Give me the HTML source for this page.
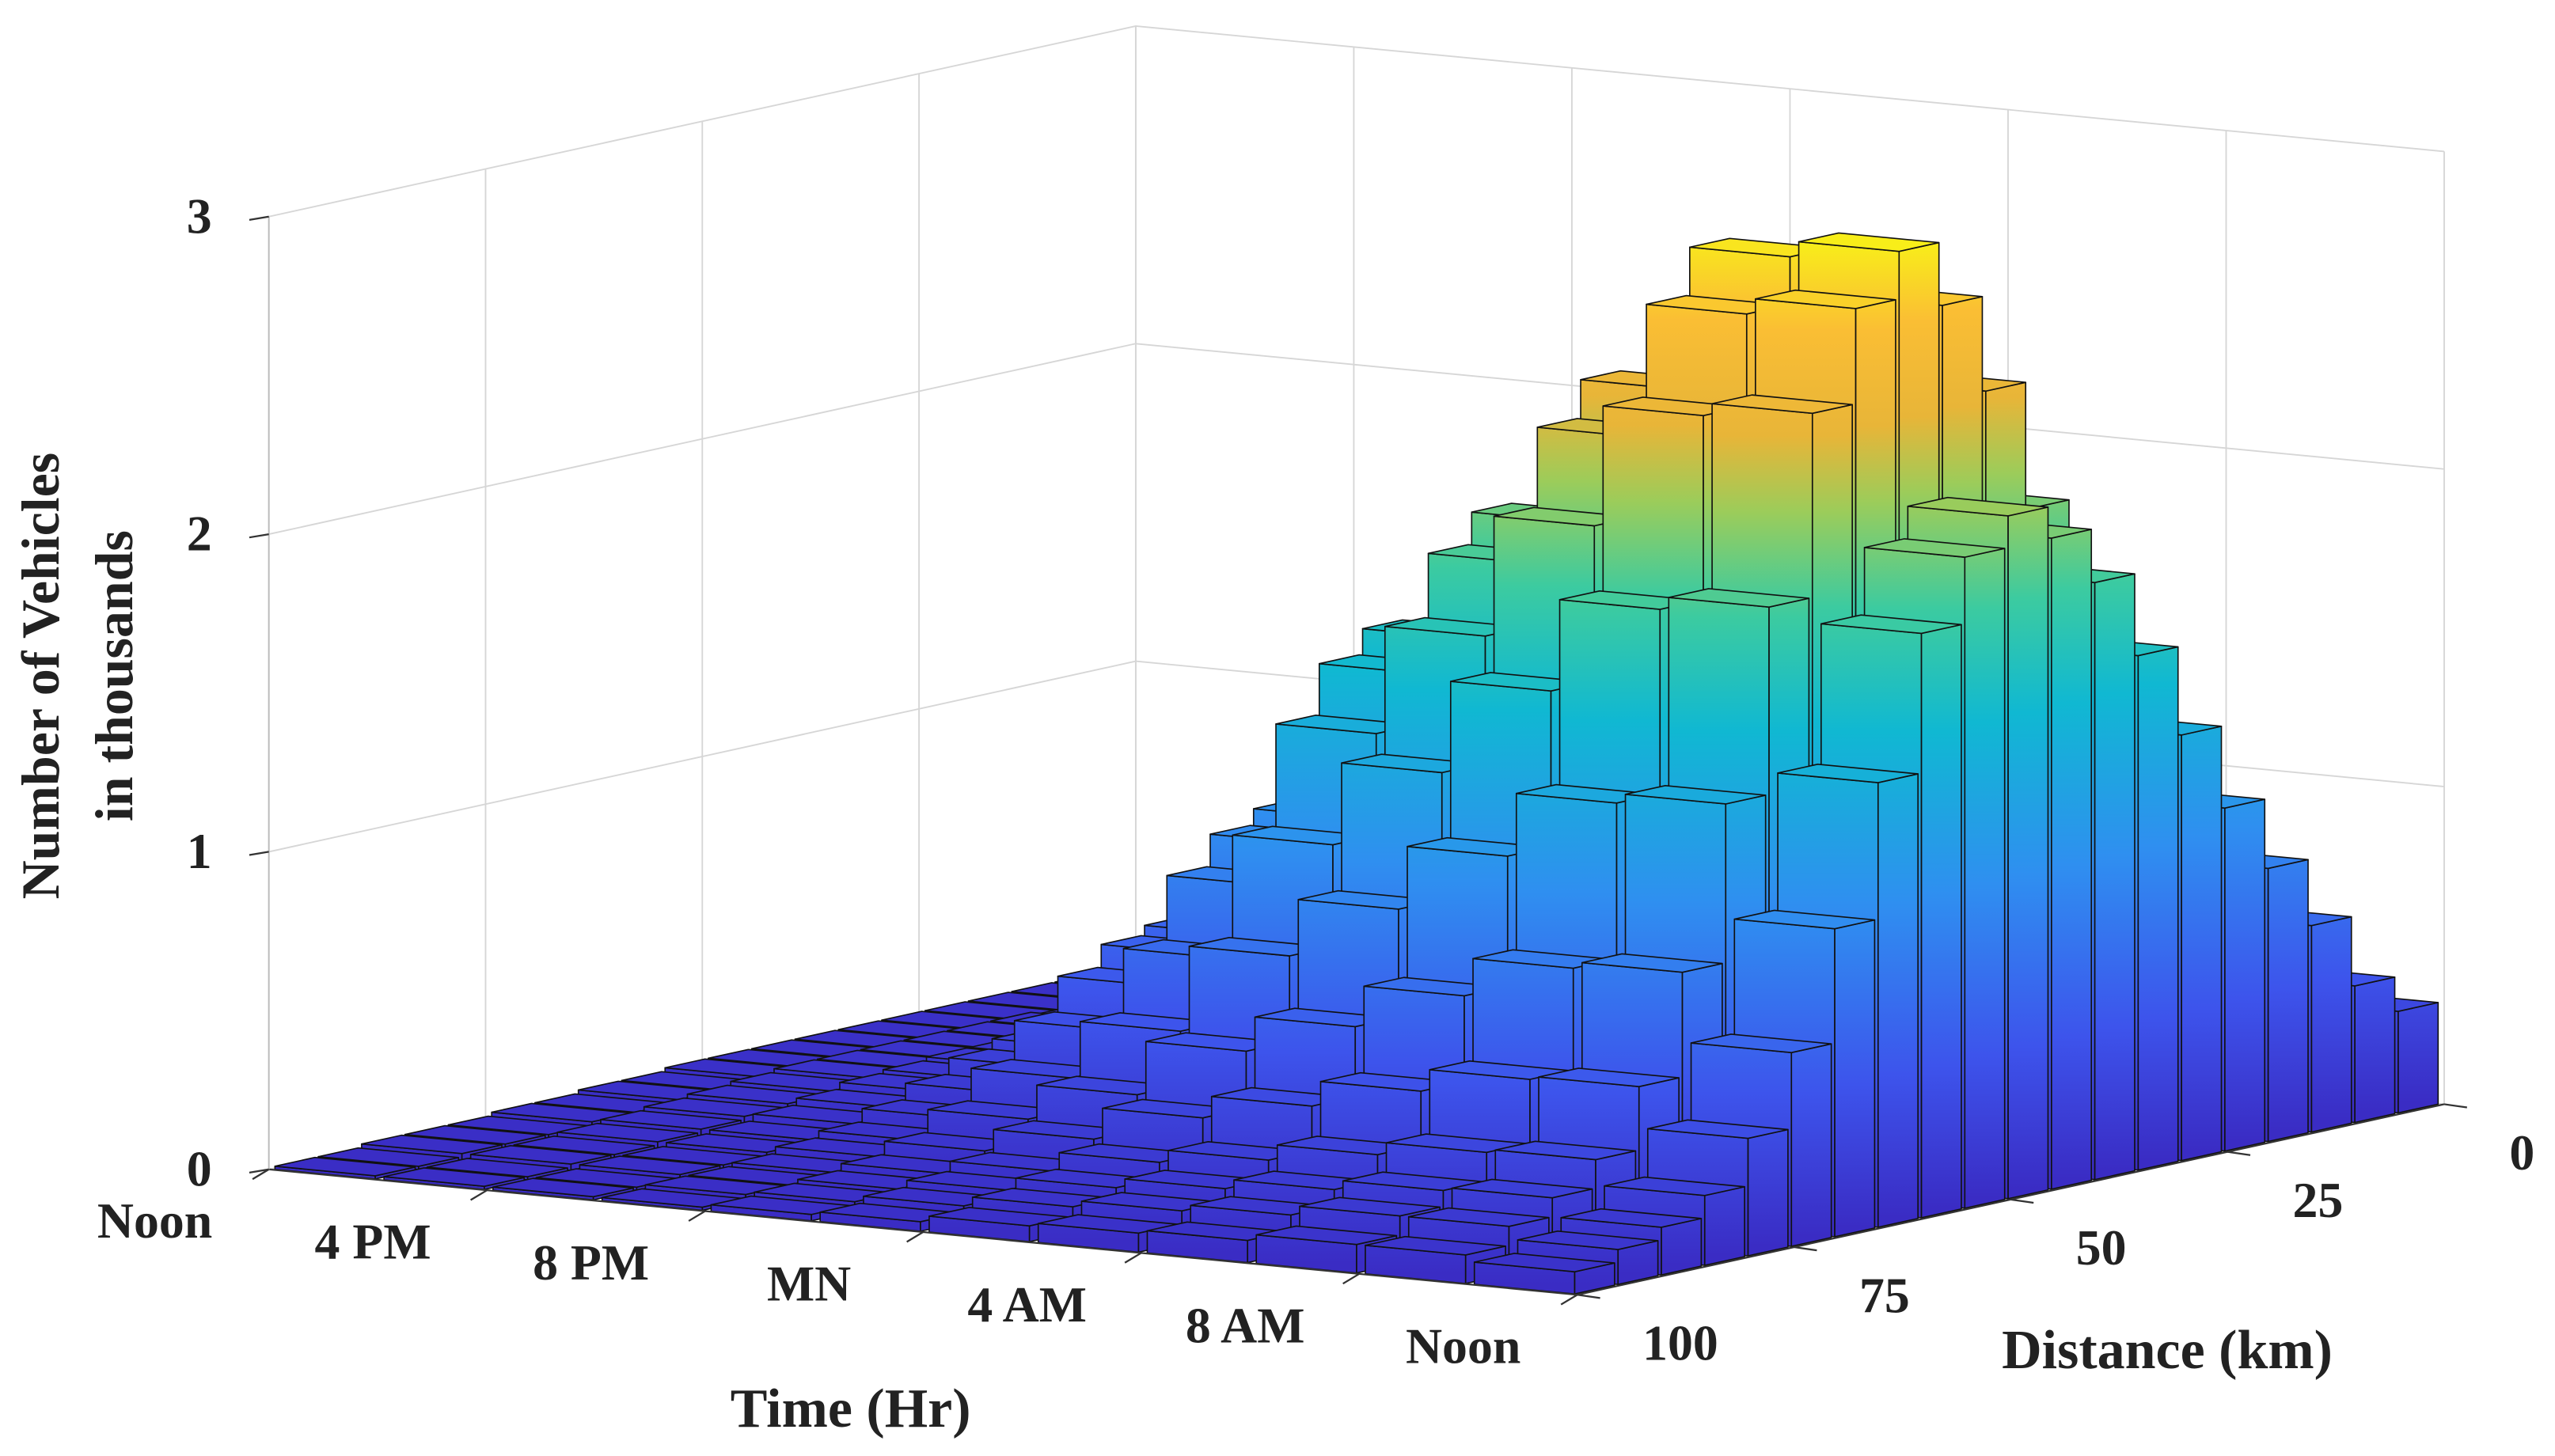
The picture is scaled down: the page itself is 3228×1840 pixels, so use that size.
<!DOCTYPE html>
<html><head><meta charset="utf-8"><style>
html,body{margin:0;padding:0;background:#fff;}
svg{display:block;}
text{font-family:"Liberation Serif",serif;font-weight:bold;fill:#222;}
</style></head><body>
<svg id="chart" width="3228" height="1840" viewBox="0 0 1568 894" preserveAspectRatio="none" xmlns="http://www.w3.org/2000/svg">
<defs id="defs"></defs>
<g id="walls"></g>
<g id="bars"></g>
<g id="axes"></g>
<text transform="translate(36,415) rotate(-90)" text-anchor="middle" font-size="33">Number of Vehicles</text>
<text transform="translate(81,415) rotate(-90)" text-anchor="middle" font-size="33">in thousands</text>
<text x="522" y="876" text-anchor="middle" font-size="34">Time  (Hr)</text>
<text x="1330" y="840" text-anchor="middle" font-size="34">Distance (km)</text>
</svg>
<script>
// time bins: 2-hour bins starting at Noon; distance bins: 5 km from 0 km
const timeBins = [0,1,2,3,4,5,6,7,8,9,10,11];
const distBins = [0,5,10,15,20,25,30,35,40,45,50,55,60,65,70,75,80,85,90,95];
const zTicks = [0,1,2,3];
const timeTickHours = [0,4,8,12,16,20,24];
const timeTickLabels = ["Noon","4 PM","8 PM","MN","4 AM","8 AM","Noon"];
const distTicks = [100,75,50,25,0];
// values (thousands) per time bin, indexed by distance bin (0-5 km ... 95-100 km)
const v0 = [0.05,0.05,0.05,0.05,0.05,0.05,0.05,0.05,0.05,0.05,0.05,0.04,0.04,0.03,0.03,0.02,0.02,0.02,0.01,0.01];
const v1 = [0.06,0.06,0.07,0.07,0.07,0.08,0.08,0.08,0.08,0.08,0.08,0.07,0.06,0.05,0.04,0.03,0.02,0.02,0.01,0.01];
const v2 = [0.06,0.07,0.08,0.09,0.10,0.11,0.11,0.12,0.12,0.12,0.11,0.10,0.08,0.06,0.04,0.03,0.02,0.02,0.01,0.01];
const v3 = [0.07,0.08,0.10,0.12,0.15,0.18,0.20,0.22,0.24,0.25,0.24,0.21,0.16,0.11,0.07,0.05,0.03,0.02,0.02,0.01];
const v4 = [0.10,0.13,0.18,0.24,0.30,0.37,0.45,0.52,0.57,0.60,0.57,0.50,0.39,0.27,0.17,0.10,0.06,0.04,0.03,0.02];
const v5 = [0.15,0.20,0.30,0.40,0.50,0.62,0.75,0.87,0.95,1.00,0.95,0.85,0.65,0.45,0.28,0.17,0.10,0.07,0.05,0.03];
const v6 = [0.24,0.32,0.48,0.64,0.80,1.00,1.20,1.40,1.52,1.60,1.52,1.36,1.04,0.72,0.45,0.27,0.16,0.11,0.08,0.05];
const v7 = [0.30,0.40,0.60,0.80,1.00,1.24,1.50,1.74,1.90,2.00,1.90,1.70,1.30,0.90,0.56,0.34,0.20,0.14,0.10,0.06];
const v8 = [0.37,0.49,0.74,0.98,1.22,1.52,1.84,2.13,2.33,2.45,2.33,2.08,1.59,1.10,0.69,0.42,0.25,0.17,0.12,0.07];
const v9 = [0.43,0.58,0.87,1.16,1.45,1.80,2.17,2.52,2.75,2.90,2.75,2.46,1.88,1.30,0.81,0.49,0.29,0.20,0.15,0.09];
const v10 = [0.40,0.52,0.78,1.05,1.32,1.65,2.05,2.45,2.75,2.95,2.80,2.50,1.92,1.33,0.83,0.50,0.30,0.21,0.15,0.09];
const v11 = [0.32,0.43,0.65,0.86,1.08,1.34,1.62,1.88,2.05,2.15,2.05,1.84,1.40,0.97,0.61,0.37,0.22,0.15,0.11,0.07];
const values = [v0,v1,v2,v3,v4,v5,v6,v7,v8,v9,v10,v11];

const NS = "http://www.w3.org/2000/svg";
const O = {x:165,y:718}, TV = {x:803,y:77}, DV = {x:532,y:-117}, ZS = 195, ZMAX = 3;
function P(t,d,z){ const a=t/24, b=(100-d)/100;
  return [O.x + a*TV.x + b*DV.x, O.y + a*TV.y + b*DV.y - z*ZS]; }
function pts(arr){ return arr.map(p=>p[0].toFixed(2)+","+p[1].toFixed(2)).join(" "); }
const cmap = [[0,[58,44,196]],[0.15,[61,84,236]],[0.33,[47,143,240]],[0.5,[16,184,210]],[0.62,[60,203,160]],[0.72,[156,204,90]],[0.8,[232,181,56]],[0.9,[250,190,52]],[1,[248,248,20]]];
function col(f){ f=Math.max(0,Math.min(1,f));
  for(let i=1;i<cmap.length;i++){ if(f<=cmap[i][0]){ const a=cmap[i-1],b=cmap[i],u=(f-a[0])/(b[0]-a[0]);
    return "rgb("+a[1].map((c,k)=>Math.round(c+(b[1][k]-c)*u)).join(",")+")"; } }
  return "rgb(248,248,20)"; }
function el(tag,attrs,parent){ const e=document.createElementNS(NS,tag); for(const k in attrs) e.setAttribute(k,attrs[k]); parent.appendChild(e); return e; }

const walls=document.getElementById("walls"), axes=document.getElementById("axes"), bars=document.getElementById("bars"), defs=document.getElementById("defs");
const gs = {stroke:"#d6d6d6","stroke-width":0.9,fill:"none"};
zTicks.forEach(z=>{
  const a=P(0,100,z), b=P(0,0,z), c=P(24,0,z);
  const l=el("polyline",Object.assign({points:pts([a,b,c])},gs),walls);
  
  
});
distTicks.forEach(d=>{
  const l=el("line",Object.assign({x1:P(0,d,0)[0],y1:P(0,d,0)[1],x2:P(0,d,ZMAX)[0],y2:P(0,d,ZMAX)[1]},gs),walls);
  
  
});
timeTickHours.forEach(t=>{
  const l=el("line",Object.assign({x1:P(t,0,0)[0],y1:P(t,0,0)[1],x2:P(t,0,ZMAX)[0],y2:P(t,0,ZMAX)[1]},gs),walls);
  
  
});

const TW=2, DW=5, GAP=0.04;
distBins.forEach((d,k)=>{
  timeBins.forEach((ti,i)=>{
    const z=values[i][k];
    const t0=ti*TW+TW*GAP, t1=ti*TW+TW*(1-GAP), d0=d+DW*GAP, d1=d+DW*(1-GAP);
    const base=P(t0,d1,0);
    const g=el("linearGradient",{id:"g"+i+"_"+k,gradientUnits:"userSpaceOnUse",x1:0,x2:0,y1:base[1],y2:base[1]-ZMAX*ZS},defs);
    cmap.forEach(s=>el("stop",{offset:s[0],"stop-color":col(s[0])},g));
    const grp=el("g",{},bars);
    
    
    const st={stroke:"#111","stroke-width":0.8,"stroke-linejoin":"round"};
    el("polygon",Object.assign({points:pts([P(t0,d1,0),P(t1,d1,0),P(t1,d1,z),P(t0,d1,z)]),fill:"url(#g"+i+"_"+k+")"},st),grp);
    el("polygon",Object.assign({points:pts([P(t1,d1,0),P(t1,d0,0),P(t1,d0,z),P(t1,d1,z)]),fill:"url(#g"+i+"_"+k+")"},st),grp);
    el("polygon",Object.assign({points:pts([P(t0,d1,z),P(t1,d1,z),P(t1,d0,z),P(t0,d0,z)]),fill:col(z/ZMAX)},st),grp);
  });
});

const ax={stroke:"#333","stroke-width":1.1,fill:"none"};
let l1=el("line",Object.assign({x1:P(0,100,0)[0],y1:P(0,100,0)[1],x2:P(24,100,0)[0],y2:P(24,100,0)[1]},ax),axes);


let l2=el("line",Object.assign({x1:P(24,100,0)[0],y1:P(24,100,0)[1],x2:P(24,0,0)[0],y2:P(24,0,0)[1]},ax),axes);


let l3=el("line",Object.assign({x1:P(0,100,0)[0],y1:P(0,100,0)[1],x2:P(0,100,ZMAX)[0],y2:P(0,100,ZMAX)[1]},{stroke:"#bbb","stroke-width":0.9}),axes);


zTicks.forEach(z=>{
  const p=P(0,100,z);
  el("line",{x1:p[0]-12,y1:p[1]+2,x2:p[0],y2:p[1],stroke:"#333","stroke-width":1.1},axes);
  const t=el("text",{x:p[0]-35,y:p[1]+10,"text-anchor":"end","font-size":31},axes);
  t.textContent=z;
  
  
});
timeTickHours.forEach((h,i)=>{
  const p=P(h,100,0);
  el("line",{x1:p[0],y1:p[1],x2:p[0]-10,y2:p[1]+6,stroke:"#333","stroke-width":1.1},axes);
  const t=el("text",{x:p[0]-70,y:p[1]+42,"text-anchor":"middle","font-size":31},axes);
  t.textContent=timeTickLabels[i];
  
  
});
distTicks.forEach(d=>{
  const p=P(24,d,0);
  el("line",{x1:p[0],y1:p[1],x2:p[0]+14,y2:p[1]+2,stroke:"#333","stroke-width":1.1},axes);
  const t=el("text",{x:p[0]+40,y:p[1]+40,"text-anchor":"start","font-size":31},axes);
  t.textContent=d;
  
  
});
</script>
</body></html>
